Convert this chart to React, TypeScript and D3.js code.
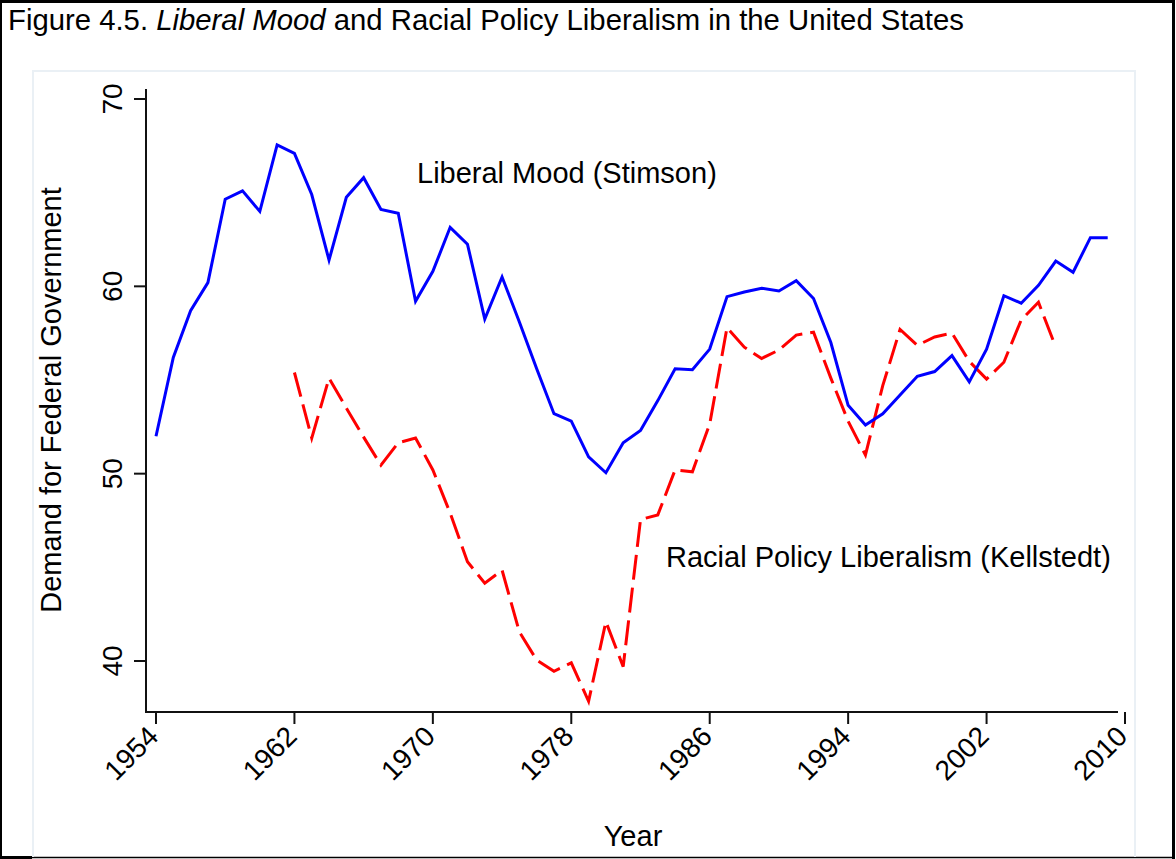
import React from "react";
import * as d3 from "d3";

// Annual series, demand for federal government (index)
const moodYears: number[] = d3.range(1954, 2010);
const moodValues: number[] = [
  52.0, 56.2, 58.7, 60.2, 64.65, 65.1, 64.0, 67.55, 67.1, 64.9,
  61.4, 64.75, 65.8, 64.1, 63.9, 59.2, 60.8, 63.15, 62.25, 58.25,
  60.5, 58.1, 55.6, 53.2, 52.8, 50.9, 50.05, 51.65, 52.3, 53.9,
  55.6, 55.55, 56.65, 59.45, 59.7, 59.9, 59.75, 60.3, 59.35, 57.0,
  53.65, 52.6, 53.2, 54.2, 55.2, 55.45, 56.3, 54.9, 56.65, 59.5,
  59.1, 60.05, 61.35, 60.75, 62.6, 62.6,
];

const racialYears: number[] = d3.range(1962, 2007);
const racialValues: number[] = [
  55.4, 51.9, 55.1, 53.5, 51.95, 50.45, 51.65, 51.9, 50.2, 47.9,
  45.3, 44.15, 44.85, 41.55, 40.05, 39.45, 39.9, 37.85, 42.1, 39.7,
  47.55, 47.8, 50.2, 50.1, 52.65, 57.8, 56.75, 56.15, 56.6, 57.4,
  57.55, 55.1, 52.8, 51.0, 54.7, 57.7, 56.85, 57.3, 57.5, 56.0,
  55.05, 55.95, 58.2, 59.15, 56.75,
];

const xTicks: number[] = [1954, 1962, 1970, 1978, 1986, 1994, 2002, 2010];
const yTicks: number[] = [40, 50, 60, 70];

const W = 1176;
const H = 859;
const FONT = "'Liberation Sans', Arial, Helvetica, sans-serif";
const LABEL_SIZE = 29;

export default function App() {
  const x = d3.scaleLinear().domain([1954, 2010]).range([156, 1125]);
  const y = d3.scaleLinear().domain([40, 70]).range([661, 99]);

  const xAxisStart = x.invert(146);
  const xAxisEnd = x.invert(1118);
  const yAxisTop = y.invert(89);
  const yAxisBottom = y.invert(712);

  const moodLine = d3
    .line<number>()
    .x((_, i) => x(moodYears[i]))
    .y((d) => y(d));
  const racialLine = d3
    .line<number>()
    .x((_, i) => x(racialYears[i]))
    .y((d) => y(d));

  const x0 = x(xAxisStart);
  const yBase = y(yAxisBottom);

  return (
    <svg
      width={W}
      height={H}
      style={{ position: "absolute", left: 0, top: 0, background: "#ffffff" }}
      fontFamily={FONT}
    >
      <rect x={0} y={0} width={W} height={H} fill="#ffffff" />

      {/* outer frame */}
      <line x1={0} y1={1.5} x2={1175} y2={1.5} stroke="#000" strokeWidth={3} />
      <line x1={1} y1={0} x2={1} y2={857} stroke="#000" strokeWidth={2} />
      <line x1={1173.5} y1={0} x2={1173.5} y2={859} stroke="#000" strokeWidth={3} />
      <line x1={0} y1={857.5} x2={1175} y2={857.5} stroke="#000" strokeWidth={1.5} />
      <rect x={0} y={856} width={32} height={3} fill="#000" />

      {/* title */}
      <text x={8} y={30} fontSize={29.3} fill="#000">
        Figure 4.5. <tspan fontStyle="italic">Liberal Mood</tspan> and Racial Policy
        Liberalism in the United States
      </text>

      {/* graph region border */}
      <path
        d="M33,857 V71 H1135 V857"
        fill="none"
        stroke="#eaf0f5"
        strokeWidth={2}
      />

      {/* axes */}
      <line
        x1={x0}
        y1={y(yAxisTop)}
        x2={x0}
        y2={yBase}
        stroke="#111"
        strokeWidth={2}
      />
      <line
        x1={x0 - 1}
        y1={yBase}
        x2={x(xAxisEnd)}
        y2={yBase}
        stroke="#111"
        strokeWidth={2}
      />

      {yTicks.map((t) => (
        <g key={`y${t}`}>
          <line x1={x0 - 12} y1={y(t)} x2={x0} y2={y(t)} stroke="#111" strokeWidth={2} />
          <text
            transform={`translate(122,${y(t)}) rotate(-90)`}
            textAnchor="middle"
            fontSize={28}
            fill="#000"
          >
            {t}
          </text>
        </g>
      ))}

      {xTicks.map((t) => (
        <g key={`x${t}`}>
          <line x1={x(t)} y1={yBase} x2={x(t)} y2={yBase + 12} stroke="#111" strokeWidth={2} />
          <text
            transform={`translate(${x(t) + 4},738) rotate(-45)`}
            textAnchor="end"
            fontSize={28}
            fill="#000"
          >
            {t}
          </text>
        </g>
      ))}

      {/* axis titles */}
      <text
        transform={`translate(61,400) rotate(-90)`}
        textAnchor="middle"
        fontSize={LABEL_SIZE}
        fill="#000"
      >
        Demand for Federal Government
      </text>
      <text x={633} y={846} textAnchor="middle" fontSize={LABEL_SIZE} fill="#000">
        Year
      </text>

      {/* series */}
      <path
        d={racialLine(racialValues) ?? ""}
        fill="none"
        stroke="#ff0000"
        strokeWidth={3}
        strokeDasharray="25 8"
        strokeLinejoin="miter"
      />
      <path
        d={moodLine(moodValues) ?? ""}
        fill="none"
        stroke="#0000ff"
        strokeWidth={3}
        strokeLinejoin="miter"
      />

      {/* series labels */}
      <text x={417} y={183} fontSize={LABEL_SIZE} fill="#000">
        Liberal Mood (Stimson)
      </text>
      <text x={666} y={567} fontSize={LABEL_SIZE} fill="#000">
        Racial Policy Liberalism (Kellstedt)
      </text>
    </svg>
  );
}
